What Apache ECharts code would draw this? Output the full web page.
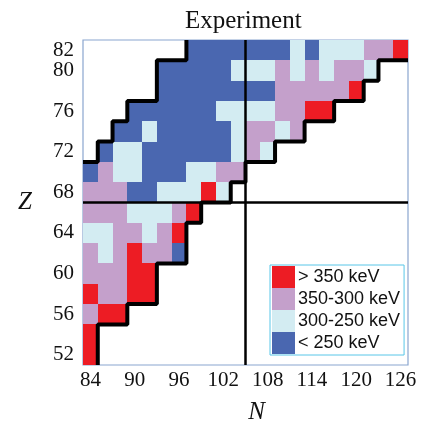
<!DOCTYPE html>
<html>
<head>
<meta charset="utf-8">
<script src="https://cdn.jsdelivr.net/npm/echarts@6/dist/echarts.min.js"></script>
<style>
html, body { margin: 0; padding: 0; background: #fff; }
#chart { width: 432px; height: 425px; }
</style>
</head>
<body>
<div id="chart"></div>
<script>
// neutron numbers (columns) and proton numbers (rows, top to bottom)
const nValues = [84, 86, 88, 90, 92, 94, 96, 98, 100, 102, 104, 106, 108, 110, 112, 114, 116, 118, 120, 122, 124, 126]
const zValues = [82, 80, 78, 76, 74, 72, 70, 68, 66, 64, 62, 60, 58, 56, 54, 52]
// R: > 350 keV, P: 350-300, L: 300-250, B: < 250, '.': no data
const rowCodes = [
  '.......BBBBBBBLBLLLPPR',
  '.....BBBBBLLLPLPLPPL..',
  '.....BBBBBBBBPPPPPR...',
  '...BBBBBBLLLLPPRR.....',
  '..BBLBBBBBLPPLP.......',
  '.BLLBBBBBBLPL.........',
  'BPLLBBBLLPP...........',
  'PPPBBLLLRL............',
  'PPPLLLPR..............',
  'LLPPLPR...............',
  'PLPRPPB...............',
  'PPPRR.................',
  'RPPRR.................',
  'PRR...................',
  'R.....................',
  'R.....................',
]
const classCodes = ['R', 'P', 'L', 'B']
const classNames = ['> 350 keV', '350-300 keV', '300-250 keV', '< 250 keV']
const xTickLabels = [84, 90, 96, 102, 108, 114, 120, 126]
const yTickLabels = [52, 56, 60, 64, 68, 72, 76, 80, 82]
const midshellN = 105
const midshellZ = 67

const classColors = ['#ed1c24', '#c4a0cb', '#d3ecf2', '#4a67b0']

// cells per class
const cells = classCodes.map(() => [])
rowCodes.forEach((row, r) => {
  row.split('').forEach((c, i) => {
    const k = classCodes.indexOf(c)
    if (k >= 0) cells[k].push([nValues[i], zValues[r]])
  })
})

// staircase boundaries from the first / last filled cell of each row
const nMin = nValues[0] - 1
const nMax = nValues[nValues.length - 1] + 1
const upperEdge = []
const lowerEdge = []
rowCodes.forEach((row, r) => {
  const z = zValues[r]
  const first = row.search(/[^.]/)
  const last = row.length - 1 - row.split('').reverse().join('').search(/[^.]/)
  const nLeft = nValues[first] - 1
  const nRight = nValues[last] + 1
  // upper-left stair
  if (!upperEdge.length) {
    upperEdge.push([nLeft, z + 1], [nLeft, z - 1])
  } else {
    const prev = upperEdge[upperEdge.length - 1]
    if (prev[0] > nMin) {
      upperEdge.push([nLeft, prev[1]])
      if (nLeft > nMin) upperEdge.push([nLeft, z - 1])
    }
  }
  // lower-right stair
  if (!lowerEdge.length) {
    lowerEdge.push([nMax, z - 1], [nRight, z - 1])
  } else {
    const prev = lowerEdge[lowerEdge.length - 1]
    if (prev[0] !== nRight) lowerEdge.push([nRight, prev[1]])
    lowerEdge.push([nRight, z - 1])
  }
})

const chart = echarts.init(document.getElementById('chart'))

function renderCell(params, api) {
  const p0 = api.coord([api.value(0) - 1, api.value(1) + 1])
  const p1 = api.coord([api.value(0) + 1, api.value(1) - 1])
  const x0 = Math.round(p0[0])
  const y0 = Math.round(p0[1])
  return {
    type: 'rect',
    shape: { x: x0, y: y0, width: Math.round(p1[0]) - x0, height: Math.round(p1[1]) - y0 },
    style: { fill: api.visual('color') },
  }
}

const serif = 'Liberation Serif'

chart.setOption({
  animation: false,
  title: {
    text: 'Experiment',
    left: 180,
    top: 4,
    textStyle: { fontFamily: serif, fontSize: 25, fontWeight: 'normal', color: '#111' },
  },
  legend: {
    orient: 'vertical',
    left: 270,
    top: 265,
    itemGap: 0,
    itemWidth: 23,
    itemHeight: 22,
    icon: 'rect',
    padding: [1, 4, 1, 2],
    borderColor: '#58c6e8',
    borderWidth: 1,
    backgroundColor: '#fff',
    data: classNames,
    textStyle: { fontFamily: 'Liberation Sans', fontSize: 18, color: '#111', padding: [0, 0, 0, -2] },
  },
  grid: {
    left: 83,
    top: 40,
    width: 325,
    height: 325,
    show: true,
    borderColor: '#8aa6cf',
    borderWidth: 1.2,
    backgroundColor: '#fff',
    outerBoundsMode: 'none',
  },
  xAxis: {
    type: 'value',
    min: nMin,
    max: nMax,
    interval: 1,
    name: 'N',
    nameLocation: 'middle',
    nameGap: 35,
    nameTextStyle: { fontFamily: serif, fontStyle: 'italic', fontSize: 25, color: '#111', padding: [0, 0, 0, 22] },
    axisLine: { show: false },
    axisTick: { show: false },
    splitLine: { show: false },
    axisLabel: {
      margin: 5,
      fontFamily: serif,
      fontSize: 21,
      color: '#111',
      formatter: v => (xTickLabels.includes(v) ? String(v) : ''),
    },
  },
  yAxis: {
    type: 'value',
    min: zValues[zValues.length - 1] - 1,
    max: zValues[0] + 1,
    interval: 1,
    name: 'Z',
    nameLocation: 'middle',
    nameRotate: 0,
    nameGap: 51,
    nameTextStyle: { fontFamily: serif, fontStyle: 'italic', fontSize: 25, color: '#111' },
    axisLine: { show: false },
    axisTick: { show: false },
    splitLine: { show: false },
    axisLabel: {
      margin: 9,
      fontFamily: serif,
      fontSize: 21,
      color: '#111',
      formatter: v => (yTickLabels.includes(v) ? String(v) : ''),
    },
  },
  series: [
    ...classNames.map((name, k) => ({
      name,
      type: 'custom',
      renderItem: renderCell,
      itemStyle: { color: classColors[k] },
      data: cells[k],
      z: 1,
    })),
    {
      type: 'line',
      data: upperEdge,
      symbol: 'none',
      lineStyle: { color: '#000', width: 4 },
      z: 5,
      silent: true,
    },
    {
      type: 'line',
      data: lowerEdge,
      symbol: 'none',
      lineStyle: { color: '#000', width: 4 },
      z: 5,
      silent: true,
      markLine: {
        symbol: 'none',
        silent: true,
        label: { show: false },
        lineStyle: { color: '#000', width: 2.5, type: 'solid' },
        data: [{ xAxis: midshellN }, { yAxis: midshellZ }],
      },
    },
  ],
})
</script>
</body>
</html>
